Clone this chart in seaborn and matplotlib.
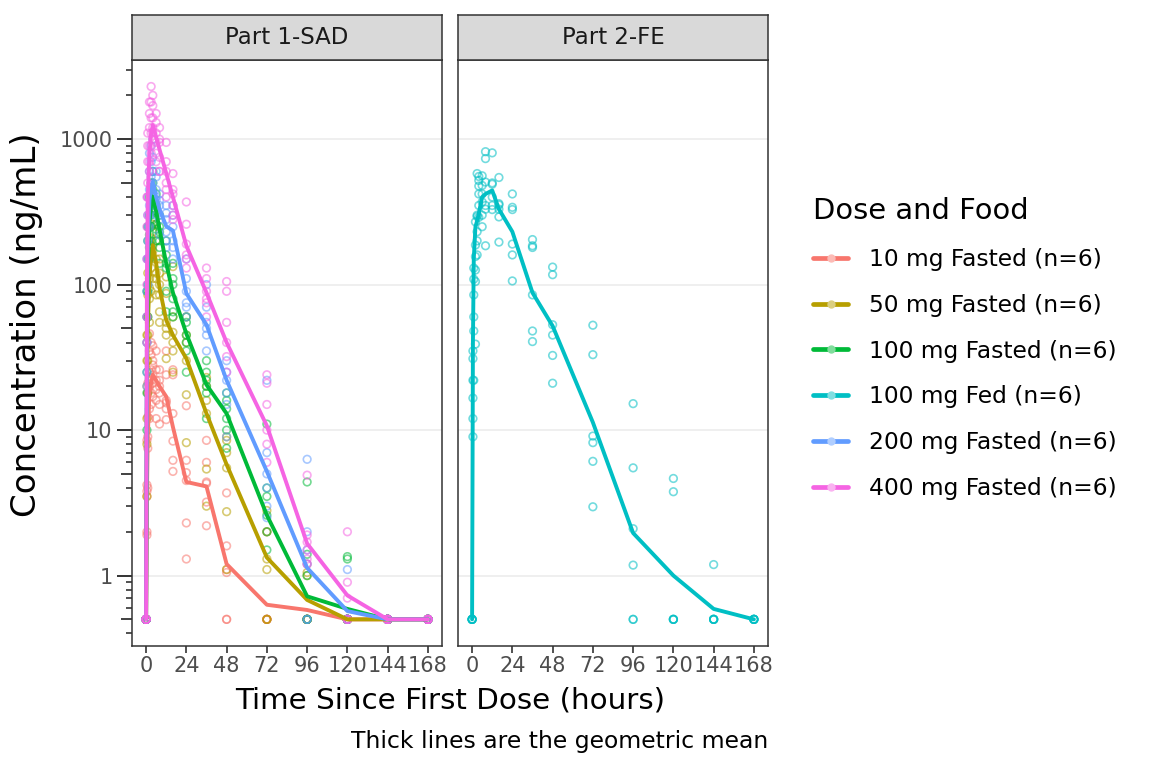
import matplotlib
matplotlib.use("Agg")
import matplotlib.pyplot as plt
from matplotlib.colors import to_rgba
from matplotlib.lines import Line2D
from matplotlib.ticker import FixedLocator, NullFormatter
import pandas as pd
import seaborn as sns

# --- dati ---
TIMES = [0, 0.5, 1, 2, 3, 4, 6, 8, 12, 16, 24, 36, 48, 72, 96, 120, 144, 168]

GROUP_LABELS = ["10 mg Fasted (n=6)", "50 mg Fasted (n=6)", "100 mg Fasted (n=6)",
                "100 mg Fed (n=6)", "200 mg Fasted (n=6)", "400 mg Fasted (n=6)"]
GROUP_PARTS = ["Part 1-SAD", "Part 1-SAD", "Part 1-SAD", "Part 2-FE", "Part 1-SAD", "Part 1-SAD"]
GROUP_COLORS = ["#F8766D", "#B79F00", "#00BA38", "#00BFC4", "#619CFF", "#F564E3"]
PARTS = ["Part 1-SAD", "Part 2-FE"]

# medie geometriche (linee spesse)
GEOMEAN_10MG = [0.5, 3.5, 9, 18, 21, 24, 22, 20, 17, 10.5, 4.4, 4.1, 1.2, 0.63, 0.58, 0.5, 0.5, 0.5]
GEOMEAN_50MG = [0.5, 14, 50, 110, 160, 187, 140, 95, 57, 45, 31, 13, 5.8, 1.33, 0.68, 0.5, 0.5, 0.5]
GEOMEAN_100MG = [0.5, 30, 120, 260, 360, 402, 320, 240, 140, 88, 46, 20.5, 13, 2.6, 0.72, 0.59, 0.5, 0.5]
GEOMEAN_100MG_FED = [0.5, 40, 150, 250, 275, 310, 400, 420, 444, 330, 231, 88, 52, 11.3, 1.96, 1.0, 0.59, 0.5]
GEOMEAN_200MG = [0.5, 50, 200, 380, 480, 509, 400, 330, 252, 235, 87, 53, 22, 5.2, 1.13, 0.57, 0.5, 0.5]
GEOMEAN_400MG = [0.5, 100, 400, 800, 1100, 1250, 1030, 850, 583, 400, 185, 88, 40, 10.7, 1.66, 0.73, 0.5, 0.5]

# valori individuali (6 soggetti per tempo), BLQ riportati a 0.5
BLQ = [0.5, 0.5, 0.5, 0.5, 0.5, 0.5]
INDIV_10MG = [
    BLQ,
    [2.0, 1.9, 3.5, 3.8, 4.2, 8.5],
    [4.0, 7.5, 9.0, 12.3, 18, 21],
    [12, 14, 20, 25, 35, 46],
    [15, 18, 22, 26, 33, 40],
    [17, 21, 24, 28, 30, 38],
    [12, 16, 19, 22, 26, 35],
    [11, 15, 18, 20, 22, 26],
    [11.8, 14, 15.4, 16, 24, 35],
    [5.2, 6.2, 8.4, 13, 24, 26],
    [1.3, 2.3, 4.5, 5.1, 6.2, 14.7],
    [2.2, 3.2, 4.3, 4.4, 6.0, 8.5],
    [0.5, 0.5, 1.05, 1.1, 1.6, 3.7],
    [0.5, 0.5, 0.5, 0.5, 0.5, 2.0],
    [0.5, 0.5, 0.5, 0.5, 0.5, 1.2],
    BLQ, BLQ, BLQ,
]
INDIV_50MG = [
    BLQ,
    [3.5, 8, 12, 20, 30, 45],
    [18, 30, 45, 60, 85, 120],
    [55, 80, 95, 110, 150, 200],
    [90, 130, 160, 180, 210, 250],
    [110, 150, 170, 185, 230, 260],
    [85, 110, 120, 150, 200, 260],
    [55, 65, 85, 100, 120, 150],
    [31, 45, 50, 55, 87, 113],
    [25, 35, 40, 47, 60, 133],
    [8.2, 17.5, 30, 40, 45, 60],
    [3.0, 5.4, 13, 16, 20, 23],
    [1.1, 2.75, 5.5, 7, 8.5, 9],
    [0.5, 0.5, 1.1, 1.3, 2.0, 2.8],
    [0.5, 0.5, 0.5, 0.5, 1.0, 1.05],
    BLQ, BLQ, BLQ,
]
INDIV_100MG = [
    BLQ,
    [10, 18, 25, 40, 60, 90],
    [60, 90, 100, 150, 200, 250],
    [150, 180, 220, 250, 300, 400],
    [200, 250, 300, 330, 420, 500],
    [280, 320, 360, 450, 500, 600],
    [200, 240, 260, 320, 350, 420],
    [140, 180, 200, 230, 250, 300],
    [65, 90, 130, 140, 160, 200],
    [60, 65, 80, 100, 110, 140],
    [25, 35, 40, 45, 55, 60],
    [12, 18, 20, 22, 25, 30],
    [7.5, 10, 12, 14, 16, 18],
    [1.5, 2.0, 2.6, 3.5, 4.0, 11],
    [0.5, 0.5, 0.5, 1.0, 1.4, 4.4],
    [0.5, 0.5, 0.5, 0.5, 1.3, 1.35],
    BLQ, BLQ,
]
INDIV_100MG_FED = [
    BLQ,
    [9, 12, 16.6, 22, 31, 35],
    [22, 48, 60, 85, 109, 130],
    [39, 105, 126, 156, 187, 270],
    [160, 200, 231, 294, 300, 580],
    [290, 350, 420, 476, 520, 554],
    [250, 300, 370, 420, 480, 560],
    [185, 330, 350, 507, 735, 820],
    [328, 350, 400, 490, 500, 805],
    [196, 292, 330, 353, 360, 545],
    [106, 160, 190, 328, 340, 420],
    [40.6, 48, 85, 180, 185, 204],
    [21, 32.6, 45, 53, 117, 132],
    [2.97, 6.1, 8.2, 9.1, 33, 52.6],
    [0.5, 0.5, 1.18, 2.1, 5.5, 15.2],
    [0.5, 0.5, 0.5, 0.5, 3.77, 4.65],
    [0.5, 0.5, 0.5, 0.5, 0.5, 1.19],
    BLQ,
]
INDIV_200MG = [
    BLQ,
    [20, 25, 40, 60, 90, 150],
    [100, 150, 200, 250, 300, 400],
    [250, 300, 350, 450, 600, 800],
    [350, 400, 450, 550, 700, 900],
    [350, 400, 500, 600, 750, 1000],
    [300, 380, 400, 450, 550, 600],
    [220, 280, 300, 350, 380, 420],
    [180, 200, 230, 280, 310, 350],
    [150, 180, 200, 250, 300, 350],
    [60, 70, 75, 90, 110, 150],
    [35, 45, 50, 55, 70, 100],
    [9, 15, 18, 22, 25, 30],
    [2.5, 3, 4, 5, 7, 22],
    [0.5, 0.5, 1.2, 1.5, 2.0, 6.3],
    [0.5, 0.5, 0.5, 0.5, 0.5, 1.1],
    BLQ, BLQ,
]
INDIV_400MG = [
    BLQ,
    [40, 60, 100, 150, 250, 400],
    [300, 400, 500, 700, 900, 1100],
    [600, 700, 900, 1200, 1500, 1800],
    [800, 900, 1100, 1400, 1800, 2300],
    [1000, 1100, 1200, 1400, 1700, 2000],
    [700, 800, 950, 1100, 1300, 1500],
    [600, 600, 750, 950, 1000, 1200],
    [400, 450, 500, 600, 700, 950],
    [280, 300, 350, 420, 450, 580],
    [130, 150, 160, 190, 260, 370],
    [60, 75, 80, 90, 110, 130],
    [25, 32, 40, 55, 90, 105],
    [6, 8, 10, 15, 21, 24],
    [1.2, 1.3, 1.5, 1.7, 1.9, 4.9],
    [0.5, 0.5, 0.5, 0.7, 0.9, 2.0],
    BLQ, BLQ,
]

GEOMEANS = [GEOMEAN_10MG, GEOMEAN_50MG, GEOMEAN_100MG, GEOMEAN_100MG_FED, GEOMEAN_200MG, GEOMEAN_400MG]
INDIVS = [INDIV_10MG, INDIV_50MG, INDIV_100MG, INDIV_100MG_FED, INDIV_200MG, INDIV_400MG]

# --- tabelle lunghe per seaborn ---
pt_rows, mean_rows = [], []
for label, part, indiv, gm in zip(GROUP_LABELS, GROUP_PARTS, INDIVS, GEOMEANS):
    for t, vals, m in zip(TIMES, indiv, gm):
        mean_rows.append((part, label, t, m))
        for v in vals:
            pt_rows.append((part, label, t, v))
points = pd.DataFrame(pt_rows, columns=["part", "group", "time", "conc"])
means = pd.DataFrame(mean_rows, columns=["part", "group", "time", "conc"])
palette = dict(zip(GROUP_LABELS, GROUP_COLORS))

sns.set_theme(style="white")
plt.rcParams["font.family"] = ["DejaVu Sans"]

W, H = 1152, 768
fig = plt.figure(figsize=(W / 100, H / 100), dpi=100)

panel_x = [132, 458]
panel_w = 310
panel_top, panel_bot = 60, 646
strip_top = 15

axes = []
for px, part in zip(panel_x, PARTS):
    ax = fig.add_axes([px / W, 1 - panel_bot / H, panel_w / W, (panel_bot - panel_top) / H])
    ax.set_yscale("log")
    sub = points[points.part == part]
    for label, color in zip(GROUP_LABELS, GROUP_COLORS):
        g = sub[sub.group == label]
        if g.empty:
            continue
        sns.scatterplot(data=g, x="time", y="conc", ax=ax, color=color, s=30,
                        legend=False, zorder=2)
        # cerchi vuoti semitrasparenti
        coll = ax.collections[-1]
        coll.set_facecolor("none")
        coll.set_edgecolor(to_rgba(color, 0.55))
        coll.set_linewidth(1.2)
    ms = means[means.part == part]
    present = [l for l in GROUP_LABELS if l in set(ms.group)]
    sns.lineplot(data=ms, x="time", y="conc", hue="group", hue_order=present,
                 palette={l: palette[l] for l in present}, ax=ax, lw=2.8,
                 legend=False, zorder=3)

    ax.set_xlim(-8.4, 176.4)
    ax.set_ylim(0.328, 3500)
    ax.set_xlabel("")
    ax.set_ylabel("")
    ax.set_xticks(range(0, 169, 24))
    ax.tick_params(axis="x", length=5, width=1.2, color="#333333", labelsize=15,
                   labelcolor="#4D4D4D", pad=2.5, bottom=True)
    ax.grid(axis="y", which="major", color="#EBEBEB", lw=1.1)
    ax.grid(axis="x", visible=False)
    ax.set_axisbelow(True)
    for sp in ax.spines.values():
        sp.set_color("#333333")
        sp.set_linewidth(1.1)
    ax.set_facecolor("white")

    # striscia del facet
    sax = fig.add_axes([px / W, 1 - panel_top / H, panel_w / W, (panel_top - strip_top) / H])
    sax.set_facecolor("#D9D9D9")
    sax.set_xticks([])
    sax.set_yticks([])
    for sp in sax.spines.values():
        sp.set_color("#333333")
        sp.set_linewidth(1.1)
    sax.text(0.5, 0.5, part, ha="center", va="center", fontsize=16.5, color="#1A1A1A",
             transform=sax.transAxes)
    axes.append(ax)

ax1, ax2 = axes
ax1.set_yticks([1, 10, 100, 1000], labels=["1", "10", "100", "1000"])
minor = [k * 10.0 ** e for e in range(-1, 4) for k in (2, 3, 4, 6, 7, 8, 9)]
ax1.yaxis.set_minor_locator(FixedLocator(minor))
ax1.yaxis.set_minor_formatter(NullFormatter())
ax1.tick_params(axis="y", which="major", length=11, width=1.4, color="#333333",
                labelsize=15, labelcolor="#4D4D4D", pad=3, left=True)
ax1.tick_params(axis="y", which="minor", length=4.3, width=1.2, color="#333333", left=True)
# tacche intermedie a 5 x 10^k
sec = ax1.secondary_yaxis("left")
sec.set_yticks([0.5, 5, 50, 500], labels=["", "", "", ""])
sec.yaxis.set_minor_locator(FixedLocator([]))
sec.tick_params(axis="y", which="major", length=8, width=1.3, color="#333333")
sec.spines["left"].set_visible(False)

ax2.set_ylim(ax1.get_ylim())
ax2.yaxis.set_minor_locator(FixedLocator(minor))
ax2.tick_params(axis="y", which="both", left=False, labelleft=False)
ax2.set_yticks([1, 10, 100, 1000])

# titoli assi e didascalia
fig.text(450 / W, 1 - 708 / H, "Time Since First Dose (hours)", ha="center",
         va="baseline", fontsize=21.2, color="black")
fig.text(27 / W, 1 - 325 / H, "Concentration (ng/mL)", ha="center", va="center",
         rotation=90, fontsize=24.5, color="black")
fig.text(768 / W, 1 - 748 / H, "Thick lines are the geometric mean", ha="right",
         va="baseline", fontsize=16.9, color="black")

# legenda
handles = []
for color in GROUP_COLORS:
    light = tuple(0.5 * c + 0.5 for c in to_rgba(color)[:3])
    handles.append(Line2D([0], [0], color=color, lw=3.4, marker="o", ms=5,
                          mfc=light, mec=light))
leg = fig.legend(handles, GROUP_LABELS, loc="upper left",
                 bbox_to_anchor=(813 / W, 1 - 197 / H), frameon=False,
                 title="Dose and Food", title_fontsize=20.9, fontsize=16.8,
                 handlelength=1.5, handletextpad=0.9, labelspacing=0.98,
                 borderpad=0, borderaxespad=0, alignment="left",
                 labelcolor="black")
leg.get_title().set_color("black")

fig.savefig("out.png", dpi=100)
